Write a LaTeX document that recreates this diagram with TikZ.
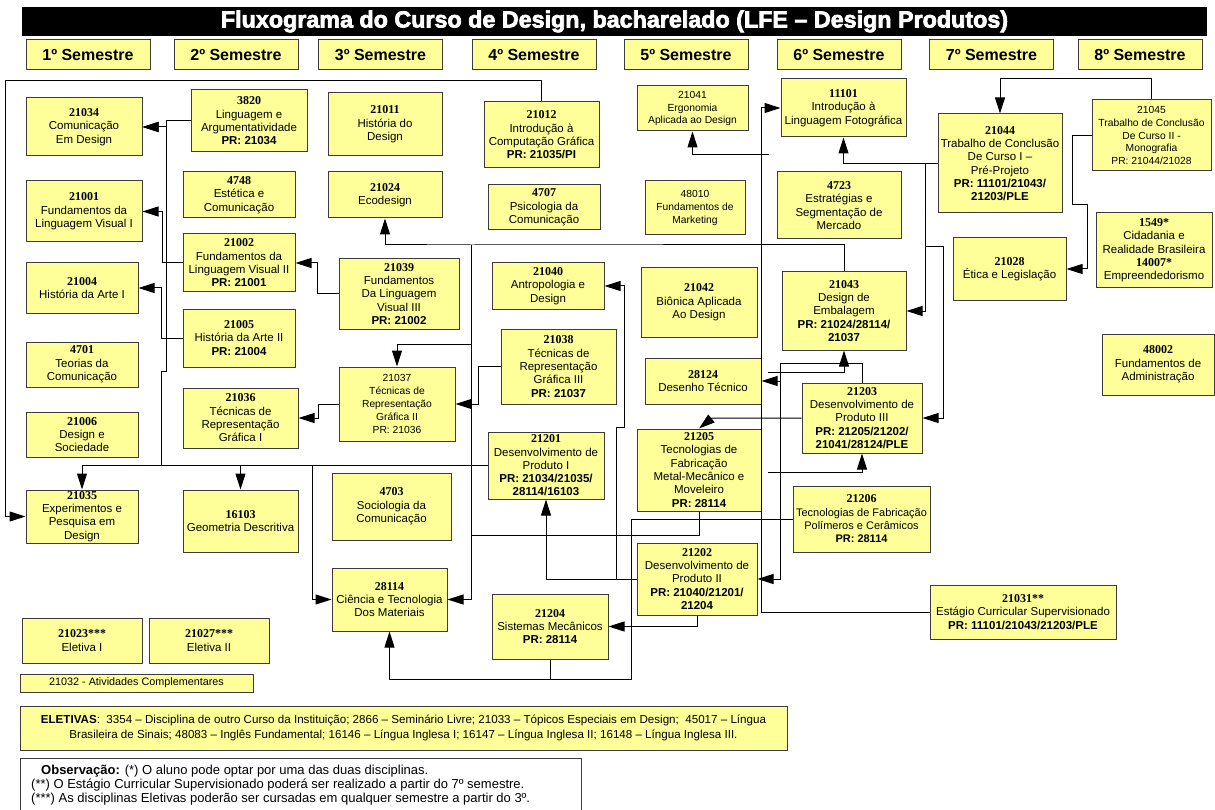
\documentclass[tikz,border=0pt]{standalone}
\usepackage{fontspec}
\setmainfont{Liberation Sans}
\newfontfamily\codefont{Liberation Serif}
\newfontfamily\titlefont{Liberation Sans}[FakeBold=3]
\usetikzlibrary{arrows.meta}
\definecolor{boxyellow}{RGB}{255,255,153}
\definecolor{boxgray}{RGB}{60,60,60}
\newcommand{\dcode}[1]{{\codefont\bfseries\fontsize{12}{13.3}\selectfont #1}}
\tikzset{
  disc/.style={draw=boxgray, fill=boxyellow, line width=1pt, align=center, inner sep=1pt,
    font=\fontsize{11.5}{13.3}\selectfont},
  smalldisc/.style={disc, font=\fontsize{10.3}{12.8}\selectfont},
  hdr/.style={draw=boxgray, fill=boxyellow, line width=1pt, minimum width=124, minimum height=30,
    font=\bfseries\fontsize{16}{18}\selectfont},
  link/.style={line width=1pt, -{Triangle[length=16pt, width=10pt]}},
  wire/.style={line width=1pt}
}
\begin{document}
\begin{tikzpicture}[x=1pt, y=-1pt]
    \useasboundingbox (0,0) rectangle (1215,810);
    % title and semesters
    \node[fill=black, minimum width=1185, minimum height=29, text=white,
      font=\titlefont\bfseries\fontsize{23.3}{24}\selectfont] (title) at (614.5,21.5)
      {Fluxograma do Curso de Design, bacharelado (LFE – Design Produtos)};
    \node[hdr] (sem1) at (88,55) {1º Semestre};
    \node[hdr] (sem2) at (236,55) {2º Semestre};
    \node[hdr] (sem3) at (380.5,55) {3º Semestre};
    \node[hdr] (sem4) at (534,55) {4º Semestre};
    \node[hdr] (sem5) at (686,55) {5º Semestre};
    \node[hdr] (sem6) at (839,55) {6º Semestre};
    \node[hdr] (sem7) at (991.5,55) {7º Semestre};
    \node[hdr] (sem8) at (1140,55) {8º Semestre};

    % disciplines, top row
    \node[disc, minimum width=116, minimum height=58] (c21034) at (84,127) {\dcode{21034}\\Comunicação\\Em Design};
    \node[disc, minimum width=116, minimum height=62] (c3820) at (249,121) {\dcode{3820}\\Linguagem e\\Argumentatividade\\\textbf{PR: 21034}};
    \node[disc, minimum width=114, minimum height=63] (c21011) at (385,124.5) {\dcode{21011}\\História do\\Design};
    \node[disc, minimum width=115, minimum height=66] (c21012) at (541.5,135) {\dcode{21012}\\Introdução à\\Computação Gráfica\\\textbf{PR: 21035/PI}};
    \node[smalldisc, minimum width=111, minimum height=45] (c21041) at (692.5,108.5) {21041\\Ergonomia\\Aplicada ao Design};
    \node[disc, minimum width=125, minimum height=58] (c11101) at (843.5,108) {\dcode{11101}\\Introdução à\\Linguagem Fotográfica};
    \node[disc, minimum width=124, minimum height=99] (c21044) at (1000,163.5) {\dcode{21044}\\Trabalho de Conclusão\\De Curso I –\\Pré-Projeto\\\textbf{PR: 11101/21043/}\\\textbf{21203/PLE}};
    \node[smalldisc, minimum width=119, minimum height=71] (c21045) at (1151.5,135.5) {21045\\Trabalho de Conclusão\\De Curso II -\\Monografia\\PR: 21044/21028};

    % second row
    \node[disc, minimum width=116, minimum height=61] (c21001) at (84,211.5) {\dcode{21001}\\Fundamentos da\\Linguagem Visual I};
    \node[disc, minimum width=112, minimum height=46] (c4748) at (239,195) {\dcode{4748}\\Estética e\\Comunicação};
    \node[disc, minimum width=114, minimum height=46] (c21024) at (385,195) {\dcode{21024}\\Ecodesign};
    \node[disc, minimum width=112, minimum height=45] (c4707) at (544,207.5) {\dcode{4707}\\Psicologia da\\Comunicação};
    \node[smalldisc, minimum width=100, minimum height=54] (c48010) at (695,208) {48010\\Fundamentos de\\Marketing};
    \node[disc, minimum width=124, minimum height=67] (c4723) at (839,205.5) {\dcode{4723}\\Estratégias e\\Segmentação de\\Mercado};
    \node[disc, minimum width=116, minimum height=75] (c1549) at (1154,250.5) {\dcode{1549*}\\Cidadania e\\Realidade Brasileira\\\dcode{14007*}\\Empreendedorismo};
    \node[disc, minimum width=113, minimum height=62] (c21028) at (1009.5,269) {\dcode{21028}\\Ética e Legislação};

    % third row
    \node[disc, minimum width=112, minimum height=58] (c21002) at (239,263) {\dcode{21002}\\Fundamentos da\\Linguagem Visual II\\\textbf{PR: 21001}};
    \node[disc, minimum width=112, minimum height=50] (c21004) at (82,288) {\dcode{21004}\\História da Arte I};
    \node[disc, minimum width=120, minimum height=70] (c21039) at (399,294) {\dcode{21039}\\Fundamentos\\Da Linguagem\\Visual III\\\textbf{PR: 21002}};
    \node[disc, minimum width=112, minimum height=46] (c21040) at (548,286) {\dcode{21040}\\Antropologia e\\Design};
    \node[disc, minimum width=116, minimum height=69] (c21042) at (699,302.5) {\dcode{21042}\\Biônica Aplicada\\Ao Design};
    \node[disc, minimum width=124, minimum height=78] (c21043) at (844,311) {\dcode{21043}\\Design de\\Embalagem\\\textbf{PR: 21024/28114/}\\\textbf{21037}};
    \node[disc, minimum width=112, minimum height=61] (c48002) at (1158,364.5) {\dcode{48002}\\Fundamentos de\\Administração};

    % fourth row
    \node[disc, minimum width=112, minimum height=58] (c21005) at (239,338) {\dcode{21005}\\História da Arte II\\\textbf{PR: 21004}};
    \node[disc, minimum width=112, minimum height=45] (c4701) at (82,364.5) {\dcode{4701}\\Teorias da\\Comunicação};
    \node[disc, minimum width=115, minimum height=75] (c21038) at (558.5,366.5) {\dcode{21038}\\Técnicas de\\Representação\\Gráfica III\\\textbf{PR: 21037}};
    \node[disc, minimum width=116, minimum height=46] (c28124) at (703,381) {\dcode{28124}\\Desenho Técnico};
    \node[smalldisc, minimum width=116, minimum height=74] (c21037) at (397,404) {21037\\Técnicas de\\Representação\\Gráfica II\\PR: 21036};
    \node[disc, minimum width=120, minimum height=70] (c21203) at (862,418) {\dcode{21203}\\Desenvolvimento de\\Produto III\\\textbf{PR: 21205/21202/}\\\textbf{21041/28124/PLE}};
    \node[disc, minimum width=115, minimum height=60] (c21036) at (240.5,418) {\dcode{21036}\\Técnicas de\\Representação\\Gráfica I};
    \node[disc, minimum width=112, minimum height=45] (c21006) at (82,434.5) {\dcode{21006}\\Design e\\Sociedade};

    % fifth row
    \node[disc, minimum width=116, minimum height=67] (c21201) at (546,465.5) {\dcode{21201}\\Desenvolvimento de\\Produto I\\\textbf{PR: 21034/21035/}\\\textbf{28114/16103}};
    \node[disc, minimum width=124, minimum height=82] (c21205) at (699,470) {\dcode{21205}\\Tecnologias de\\Fabricação\\Metal-Mecânico e\\Moveleiro\\\textbf{PR: 28114}};
    \node[disc, minimum width=137, minimum height=66, font=\fontsize{11}{13.3}\selectfont] (c21206) at (861.5,519) {\dcode{21206}\\Tecnologias de Fabricação\\Polímeros e Cerâmicos\\\textbf{PR: 28114}};
    \node[disc, minimum width=112, minimum height=53] (c21035) at (82,516.5) {\dcode{21035}\\Experimentos e\\Pesquisa em\\Design};
    \node[disc, minimum width=115, minimum height=62] (c16103) at (240.5,521) {\dcode{16103}\\Geometria Descritiva};
    \node[disc, minimum width=119, minimum height=67] (c4703) at (391.5,506.5) {\dcode{4703}\\Sociologia da\\Comunicação};

    % bottom rows
    \node[disc, minimum width=120, minimum height=72] (c21202) at (697,579) {\dcode{21202}\\Desenvolvimento de\\Produto II\\\textbf{PR: 21040/21201/}\\\textbf{21204}};
    \node[disc, minimum width=115, minimum height=63] (c28114) at (389.5,599.5) {\dcode{28114}\\Ciência e Tecnologia\\Dos Materiais};
    \node[disc, minimum width=116, minimum height=65] (c21204) at (550,626.5) {\dcode{21204}\\Sistemas Mecânicos\\\textbf{PR: 28114}};
    \node[disc, minimum width=186, minimum height=54] (c21031) at (1023,612) {\dcode{21031**}\\Estágio Curricular Supervisionado\\\textbf{PR: 11101/21043/21203/PLE}};
    \node[disc, minimum width=120, minimum height=45] (c21023) at (82,640.5) {\dcode{21023***}\\Eletiva I};
    \node[disc, minimum width=120, minimum height=45] (c21027) at (209,640.5) {\dcode{21027***}\\Eletiva II};
    \node[disc, minimum width=233, minimum height=18, font=\fontsize{10.8}{12}\selectfont] (c21032) at (136.5,683) {21032 - Atividades Complementares};

    % notes
    \node[disc, minimum width=767, minimum height=44, font=\fontsize{11.6}{15}\selectfont] (eletivas) at (403.5,728)
      {\textbf{ELETIVAS}:\ \ 3354 – Disciplina de outro Curso da Instituição; 2866 – Seminário Livre; 21033 – Tópicos Especiais em Design;\ \ 45017 – Língua\\
       Brasileira de Sinais; 48083 – Inglês Fundamental; 16146 – Língua Inglesa I; 16147 – Língua Inglesa II; 16148 – Língua Inglesa III.};
    \draw[draw=boxgray, line width=1pt] (20,814) |- (581,758) -- (581,814);
    \node[anchor=west, inner sep=0pt, font=\fontsize{13}{14}\selectfont] (obs1) at (41,771) {\textbf{Observação:} (*) O aluno pode optar por uma das duas disciplinas.};
    \node[anchor=west, inner sep=0pt, font=\fontsize{13}{14}\selectfont] (obs2) at (31,785) {(**) O Estágio Curricular Supervisionado poderá ser realizado a partir do 7º semestre.};
    \node[anchor=west, inner sep=0pt, font=\fontsize{13}{14}\selectfont] (obs3) at (31,799) {(***) As disciplinas Eletivas poderão ser cursadas em qualquer semestre a partir do 3º.};

    % prerequisite lines, arrow points to the prerequisite
    \draw[link] (c21012.north) |- (5,81) |- (c21035.west);
    \draw[link] (c3820.west) -- (166,121) |- (c21034.east);
    \draw[link] (c21002.west) -- (162,263) |- (c21001.east);
    \draw[link] (c21005.west) -- (161,338) |- (c21004.east);
    \draw[link] (c21039.west) -- (317,294) |- (c21002.east);
    \draw[link] (c21037.west) -- (318,404) |- (c21036.east);
    \draw[link] (c21038.west) -- (478,366.5) |- (c21037.east);
    % 21043
    \coordinate (b43) at (471,245);
    \draw[link] (c21043.north) |- (b43) -| (c21024.south);
    \draw[link] (b43) |- (397,344) -- (c21037.north);
    \draw[link] (b43) |- (c28114.east);
    \draw[wire] (c21205.south) |- (471,535);
    % 21201
    \coordinate (b01) at (312,465.5);
    \draw[link] (c21201.west) -| (c21035.north);
    \draw[link] (c16103.north |- b01) -- (c16103.north);
    \draw[link] (b01) |- (c28114.west);
    \draw[link] (161,465.5) -- (161,371) -- (166,371) |- (c21034.east);
    % 21202
    \draw[link] (c21202.west) -| (c21201.south);
    \draw[link] (616,579) |- (624,427) |- (c21040.east);
    \draw[link] (c21202.south) |- (c21204.east);
    % 21204 and 21206
    \draw[link] (c21204.south) -- (550,679) -| (c28114.south);
    \draw[wire] (c21206.west) -- (631,519) -- (631,679) -- (550,679);
    % 21031
    \draw[link] (c21031.west) -| (761,108) -- (c11101.west);
    \draw[link] (769,155) -| (c21041.south);
    \draw[link] (768,372) -| (c21043.south);
    \draw[link] (768,472) -| (c21203.south);
    % 21203
    \draw[link] (c21203.north) |- (780,363) |- (c28124.east);
    \draw[link] (780,363) |- (c21202.east);
    \draw[link] (c21203.west) -- (712,418) -- (c21205.north);
    % 21044
    \draw[link] (c21044.west) -| (c11101.south);
    \draw[link] (925,163.5) |- (c21043.east);
    \draw[link] (925,247) -- (943,247) |- (c21203.east);
    % 21045
    \draw[link] (c21045.north) -- (1151.5,79) -| (c21044.north);
    \draw[link] (c21045.west) -- (1072,135.5) -- (1072,205) -- (1087,205) |- (c21028.east);
\end{tikzpicture}
\end{document}
